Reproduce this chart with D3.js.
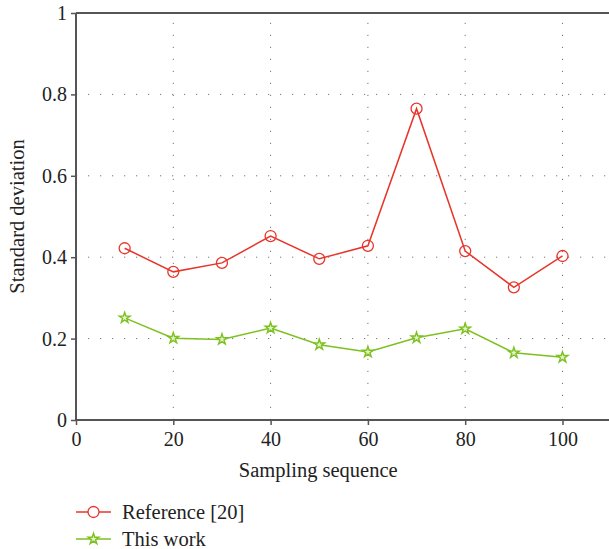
<!DOCTYPE html>
<html>
<head>
<meta charset="utf-8">
<script src="https://cdn.jsdelivr.net/npm/d3@7"></script>
<style>
    body { margin: 0; background: #fff; }
    svg text { font-family: 'Liberation Serif', serif !important; }
</style>
</head>
<body>
<div id="chart"></div>
<script>
// Data
let samples = [10, 20, 30, 40, 50, 60, 70, 80, 90, 100];
let referenceValues = [0.422, 0.364, 0.386, 0.452, 0.396, 0.428, 0.765, 0.415, 0.326, 0.403];
let thisWorkValues = [0.251, 0.201, 0.198, 0.226, 0.185, 0.167, 0.202, 0.224, 0.165, 0.154];
let xTicks = [0, 20, 40, 60, 80, 100];
let yTicks = [0, 0.2, 0.4, 0.6, 0.8, 1];
let seriesNames = ["Reference [20]", "This work"];

// Set up svg dimensions
let margin = {top: 13, right: 0, bottom: 129, left: 76},
    width = 609 - margin.left - margin.right,
    height = 549 - margin.top - margin.bottom;

let svg = d3.select("#chart").append("svg")
    .attr("width", 609)
    .attr("height", 549)
    .attr("font-family", "Liberation Serif");

let g = svg.append("g")
    .attr("transform", "translate(" + margin.left + "," + margin.top + ")");

// Scales
let xScale = d3.scaleLinear()
    .domain([0, 110])
    .range([0, 486.5 * 1.1]);
let yScale = d3.scaleLinear()
    .domain([0, 1])
    .range([height, 0]);

// Dotted grid
g.selectAll(".vgrid")
    .data(xTicks.filter(d => d > 0))
    .enter().append("line")
    .attr("class", "vgrid")
    .attr("x1", d => xScale(d))
    .attr("x2", d => xScale(d))
    .attr("y1", height)
    .attr("y2", 0)
    .attr("stroke", "#777")
    .attr("stroke-width", 1)
    .attr("stroke-dasharray", "1.2,10.8");

g.selectAll(".hgrid")
    .data(yTicks.filter(d => d > 0 && d < 1))
    .enter().append("line")
    .attr("class", "hgrid")
    .attr("x1", 0)
    .attr("x2", width)
    .attr("y1", d => yScale(d))
    .attr("y2", d => yScale(d))
    .attr("stroke", "#777")
    .attr("stroke-width", 1)
    .attr("stroke-dasharray", "1.2,10.8");

// Axes
let xAxis = d3.axisBottom(xScale)
    .tickValues(xTicks)
    .tickFormat(d3.format("d"))
    .tickSize(5)
    .tickPadding(7);
let yAxis = d3.axisLeft(yScale)
    .tickValues(yTicks)
    .tickFormat(d => d === 0 || d === 1 ? d : d3.format(".1f")(d))
    .tickSize(5)
    .tickPadding(4);

let gx = g.append("g")
    .attr("transform", "translate(0," + height + ")")
    .call(xAxis);
let gy = g.append("g")
    .call(yAxis);

[gx, gy].forEach(function (a) {
    a.attr("font-family", "Liberation Serif").attr("font-size", 20);
    a.select(".domain").attr("stroke", "#555").attr("stroke-width", 2);
    a.selectAll(".tick line").attr("stroke", "#555").attr("stroke-width", 1.5);
    a.selectAll(".tick text")
        .style("font-size", "20px")
        .attr("fill", "#222");
});
gx.select(".domain").attr("d", "M0,0H" + width);
gy.select(".domain").attr("d", "M0," + height + "V0");

// Top border
g.append("line")
    .attr("x1", 0)
    .attr("x2", width)
    .attr("y1", 0)
    .attr("y2", 0)
    .attr("stroke", "#555")
    .attr("stroke-width", 2);

// Axis labels
g.append("text")
    .attr("x", xScale(50) - 1)
    .attr("y", height + 57)
    .attr("text-anchor", "middle")
    .style("font-size", "20.5px")
    .attr("fill", "#222")
    .text("Sampling sequence");

g.append("text")
    .attr("transform", "translate(" + (-52) + "," + yScale(0.5) + ") rotate(-90)")
    .attr("text-anchor", "middle")
    .style("font-size", "20.5px")
    .attr("fill", "#222")
    .text("Standard deviation");

// Lines and markers
let red = "#e8352b", green = "#7cc11f";
let line = d3.line()
    .x(d => xScale(d[0]))
    .y(d => yScale(d[1]));

let refData = samples.map((s, i) => [s, referenceValues[i]]);
let workData = samples.map((s, i) => [s, thisWorkValues[i]]);

g.append("path")
    .datum(refData)
    .attr("fill", "none")
    .attr("stroke", red)
    .attr("stroke-width", 1.5)
    .attr("d", line);

g.selectAll(".pointRef")
    .data(refData)
    .enter().append("circle")
    .attr("class", "pointRef")
    .attr("cx", d => xScale(d[0]))
    .attr("cy", d => yScale(d[1]))
    .attr("r", 5.5)
    .attr("fill", "none")
    .attr("stroke", red)
    .attr("stroke-width", 1.3);

g.append("path")
    .datum(workData)
    .attr("fill", "none")
    .attr("stroke", green)
    .attr("stroke-width", 1.5)
    .attr("d", line);

let star = d3.symbol().type(d3.symbolStar).size(36);

g.selectAll(".pointWork")
    .data(workData)
    .enter().append("path")
    .attr("class", "pointWork")
    .attr("transform", d => "translate(" + xScale(d[0]) + "," + yScale(d[1]) + ")")
    .attr("d", star)
    .attr("fill", "#e4f2cc")
    .attr("stroke", green)
    .attr("stroke-width", 1.4);

// Legend
let legend = svg.append("g")
    .attr("transform", "translate(76,512)");

seriesNames.forEach(function (name, i) {
    let row = legend.append("g")
        .attr("transform", "translate(0," + (i * 27) + ")");
    let c = i === 0 ? red : green;
    row.append("line")
        .attr("x1", 0)
        .attr("x2", 35)
        .attr("stroke", c)
        .attr("stroke-width", 1.5);
    if (i === 0) {
        row.append("circle")
            .attr("cx", 17.5)
            .attr("r", 5.5)
            .attr("fill", "#fff")
            .attr("stroke", red)
            .attr("stroke-width", 1.3);
    } else {
        row.append("path")
            .attr("transform", "translate(17.5,0)")
            .attr("d", star)
            .attr("fill", "#e4f2cc")
            .attr("stroke", green)
            .attr("stroke-width", 1.4);
    }
    row.append("text")
        .attr("x", 46)
        .attr("y", 6.5)
        .style("font-size", "20.5px")
        .attr("fill", "#222")
        .text(name);
});
</script>
</body>
</html>
